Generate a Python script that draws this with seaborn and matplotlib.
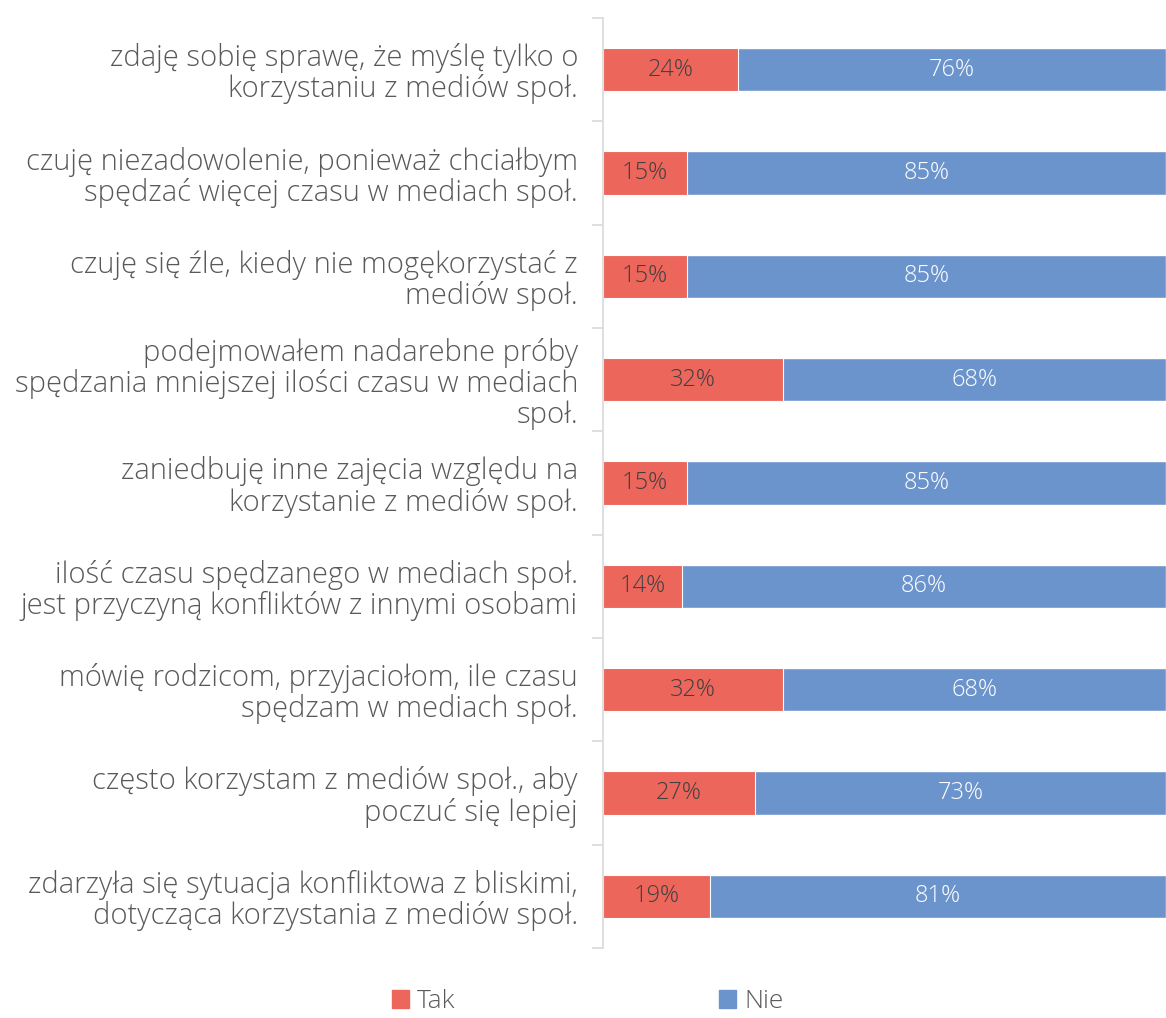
import numpy as np
import pandas as pd
import seaborn as sns
import matplotlib.pyplot as plt
from matplotlib.patches import Patch

# %% Data
statements = [
    "zdaję sobię sprawę, że myślę tylko o\nkorzystaniu z mediów społ.",
    "czuję niezadowolenie, ponieważ chciałbym\nspędzać więcej czasu w mediach społ.",
    "czuję się źle, kiedy nie mogękorzystać z\nmediów społ.",
    "podejmowałem nadarebne próby\nspędzania mniejszej ilości czasu w mediach\nspoł.",
    "zaniedbuję inne zajęcia względu na\nkorzystanie z mediów społ.",
    "ilość czasu spędzanego w mediach społ.\njest przyczyną konfliktów z innymi osobami",
    "mówię rodzicom, przyjaciołom, ile czasu\nspędzam w mediach społ.",
    "często korzystam z mediów społ., aby\npoczuć się lepiej",
    "zdarzyła się sytuacja konfliktowa z bliskimi,\ndotycząca korzystania z mediów społ.",
]
tak = [24, 15, 15, 32, 15, 14, 32, 27, 19]
nie = [76, 85, 85, 68, 85, 86, 68, 73, 81]

RED = '#EC665C'
BLUE = '#6C94CC'
TXT = '#595959'

df = pd.DataFrame({'statement': statements, 'Tak': tak, 'Nie': nie})
df['total'] = df['Tak'] + df['Nie']

# %% Plot
sns.set_style("white")
plt.rcParams['font.family'] = ['Open Sans', 'DejaVu Sans']

fig = plt.figure(figsize=(11.66, 10.18), dpi=100)
ax = fig.add_axes([603 / 1166, 70 / 1018, 1 - 603 / 1166, 930 / 1018])

# full-length blue bar first, red part drawn on top of it
sns.barplot(data=df, x='total', y='statement', orient='h', color=BLUE,
            saturation=1, width=0.42, ax=ax)
sns.barplot(data=df, x='Tak', y='statement', orient='h', color=RED,
            saturation=1, width=0.42, ax=ax, edgecolor='white', linewidth=0.8)

for i, (t, n) in enumerate(zip(df['Tak'], df['Nie'])):
    ax.text(t / 2, i, f"{t}%", ha='center', va='center', fontsize=17,
            color='#404040', fontweight='light')
    ax.text(t + n / 2, i, f"{n}%", ha='center', va='center', fontsize=17,
            color='white', fontweight='light')

ax.set_xlim(0, 100)
ax.set_ylim(len(df) - 0.5, -0.5)
ax.set_xlabel("")
ax.set_ylabel("")
ax.set_xticks([])

ax.set_yticks(range(len(df)))
ax.set_yticklabels(df['statement'], fontsize=21, color=TXT, linespacing=1.05,
                   fontweight='light')
ax.set_yticks(np.arange(-0.5, len(df), 1), minor=True)
ax.tick_params(axis='y', which='major', length=0, pad=18)
ax.tick_params(axis='y', which='minor', left=True, length=8,
               color='#D9D9D9', width=1.2)

for s in ['top', 'right', 'bottom']:
    ax.spines[s].set_visible(False)
ax.spines['left'].set_color('#D9D9D9')
ax.spines['left'].set_linewidth(1.2)

handles = [Patch(color=RED, label='Tak'), Patch(color=BLUE, label='Nie')]
fig.legend(handles=handles, loc='center', bbox_to_anchor=(0.504, 0.016),
           ncol=2, frameon=False, labelcolor=TXT,
           handlelength=0.65, handleheight=0.65, handletextpad=0.3,
           columnspacing=10, prop={'weight': 'light', 'size': 19})

fig.savefig("out.png", dpi=100)
